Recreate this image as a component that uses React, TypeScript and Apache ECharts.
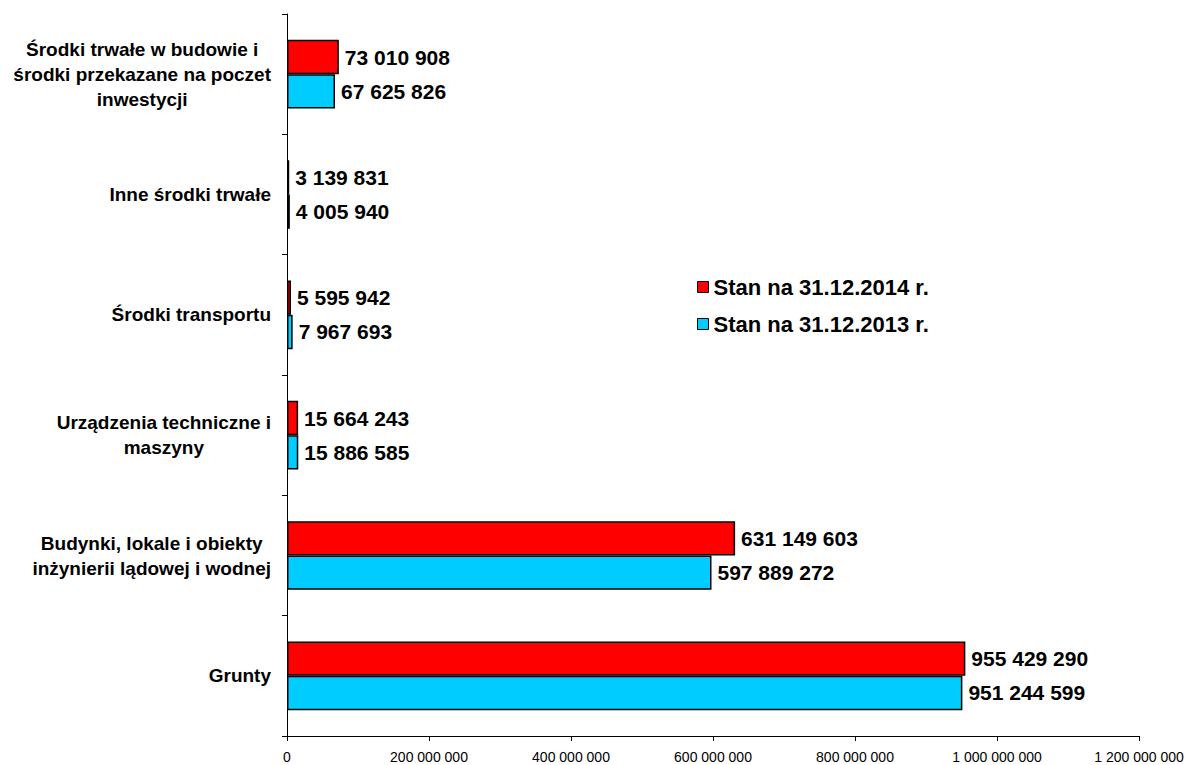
import React, { useEffect, useRef } from "react";
import * as echarts from "echarts";

const categories = [
  "Grunty",
  "Budynki, lokale i obiekty\ninżynierii lądowej i wodnej",
  "Urządzenia techniczne i\nmaszyny",
  "Środki transportu",
  "Inne środki trwałe",
  "Środki trwałe w budowie i\nśrodki przekazane na poczet\ninwestycji",
];
const series2014Name = "Stan na 31.12.2014 r.";
const series2013Name = "Stan na 31.12.2013 r.";
const values2014 = [955429290, 631149603, 15664243, 5595942, 3139831, 73010908];
const values2013 = [951244599, 597889272, 15886585, 7967693, 4005940, 67625826];
const xMax = 1200000000;
const xInterval = 200000000;

const fmt = (v: number) =>
  String(Math.round(v)).replace(/\B(?=(\d{3})+(?!\d))/g, " ");

export default function App() {
  const ref = useRef<HTMLDivElement>(null);
  useEffect(() => {
    if (!ref.current) return;
    const chart = echarts.init(ref.current, null, { renderer: "svg" });
    const font = "Arial, 'Liberation Sans', sans-serif";
    const labelCfg = {
      show: true,
      position: "right" as const,
      distance: 6,
      formatter: (p: any) => fmt(p.value),
      fontFamily: font,
      fontWeight: "bold" as const,
      fontSize: 21,
      color: "#000",
    };
    chart.setOption({
      animation: false,
      textStyle: { fontFamily: font },
      grid: {
        left: 287,
        right: 56,
        top: 14,
        bottom: 29,
        containLabel: false,
        outerBoundsMode: "none",
      },
      legend: {
        data: [series2014Name, series2013Name],
        orient: "vertical",
        left: 692,
        top: 271,
        itemWidth: 11,
        itemHeight: 11,
        itemGap: 15,
        icon: "rect",
        textStyle: { fontFamily: font, fontWeight: "bold", fontSize: 22, color: "#000" },
        itemStyle: { borderColor: "#000", borderWidth: 1 },
      },
      xAxis: {
        type: "value",
        min: 0,
        max: xMax,
        interval: xInterval,
        splitLine: { show: false },
        axisLine: { show: true, lineStyle: { color: "#000", width: 1 } },
        axisTick: { show: true, length: 5, lineStyle: { color: "#000" } },
        axisLabel: {
          formatter: (v: number) => fmt(v),
          fontFamily: font,
          fontSize: 14,
          color: "#000",
          margin: 14,
        },
      },
      yAxis: {
        type: "category",
        data: categories,
        axisLine: { show: true, lineStyle: { color: "#000", width: 1 } },
        axisTick: { show: true, length: 5, lineStyle: { color: "#000" } },
        axisLabel: {
          align: "right",
          margin: 16,
          formatter: (v: string) =>
            v
              .split("\n")
              .map((l) => `{c|${l}}`)
              .join("\n"),
          rich: {
            c: {
              align: "center",
              fontFamily: font,
              fontWeight: "bold",
              fontSize: 19,
              lineHeight: 25,
              color: "#000",
            },
          },
        },
      },
      series: [
        {
          name: series2014Name,
          type: "bar",
          data: values2014,
          barGap: "0%",
          barCategoryGap: "43%",
          itemStyle: { color: "#FF0000", borderColor: "#000", borderWidth: 1.5 },
          label: labelCfg,
        },
        {
          name: series2013Name,
          type: "bar",
          data: values2013,
          barGap: "0%",
          barCategoryGap: "43%",
          itemStyle: { color: "#00CCFF", borderColor: "#000", borderWidth: 1.5 },
          label: labelCfg,
        },
      ],
    });
    return () => chart.dispose();
  }, []);
  return (
    <div
      ref={ref}
      style={{ position: "absolute", left: 0, top: 0, width: 1195, height: 765 }}
    />
  );
}
